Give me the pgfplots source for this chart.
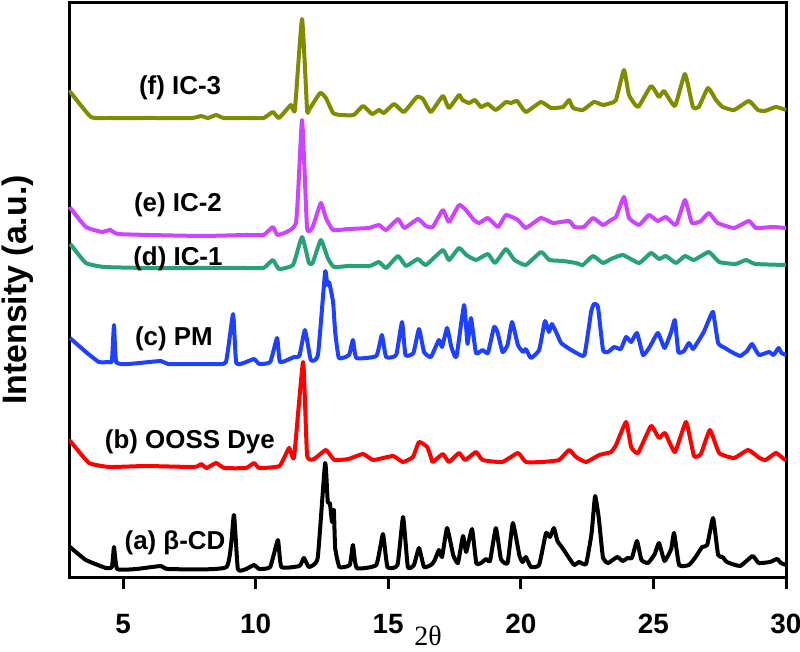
\documentclass[border=0pt]{standalone}
\usepackage{pgfplots}
\pgfplotsset{compat=1.18}
\usepackage{fontspec}
\setmainfont{Liberation Sans}
\newfontfamily\serif{Liberation Serif}

\definecolor{cA}{RGB}{0,0,0}
\definecolor{cB}{RGB}{255,0,0}
\definecolor{cC}{RGB}{32,64,255}
\definecolor{cD}{RGB}{40,160,120}
\definecolor{cE}{RGB}{204,68,255}
\definecolor{cF}{RGB}{128,140,0}

\begin{document}
\begin{tikzpicture}
\begin{axis}[
    name=ax,
    scale only axis,
    width=358bp, height=287bp,
    xmin=3, xmax=30, ymin=0, ymax=574,
    xtick={5,10,15,20,25,30},
    ytick=\empty,
    xtick pos=bottom,
    tick align=outside,
    major tick length=6bp,
    every tick/.style={black, line width=1.5bp},
    axis line style={line width=1.5bp},
    /pgf/number format/assume math mode=true,
    xticklabel style={font=\bfseries\fontsize{14}{16}\selectfont, anchor=center, yshift=-17.5bp},
    clip=false,
    every axis plot/.append style={line width=2bp, line join=round, smooth, tension=0.25},
  ]
% (a) beta-CD
\addplot[cA] coordinates {
(3.00,30)(3.04,29)(3.60,17)(4.35,9)(4.58,10)(4.66,30)(4.78,8)(5.5,8)(6.43,11)(6.7,8)
(8.9,10)(9.18,62)(9.33,8)(9.64,8)(9.94,12)(10.14,8)(10.55,10)(10.84,37)(10.97,10)
(11.65,11)(11.82,19)(12.01,10)(12.34,19)(12.62,114)(12.72,75)(12.80,74)(12.88,55)
(12.95,67)(13.0,29)(13.16,10)(13.55,12)(13.67,32)(13.81,9)(14.55,12)(14.80,43)
(14.97,10)(15.35,12)(15.56,60)(15.74,10)(15.97,12)(16.16,29)(16.35,10)(16.61,12)
(16.74,16)(16.91,27)(17.03,20)(17.22,49)(17.45,22)(17.63,14)(17.82,41)(17.94,25)
(18.16,48)(18.32,14)(18.5,14)(18.69,18)(18.84,16)(19.06,49)(19.25,18)(19.50,14)
(19.70,54)(19.95,21)(20.07,15)(20.19,20)(20.38,10)(20.69,12)(20.95,44)(21.10,40)
(21.25,49)(21.38,36)(21.57,29)(21.82,19)(22.01,12)(22.20,15)(22.46,13)(22.67,44)
(22.80,81)(22.94,59)(23.10,19)(23.29,14)(23.46,17)(23.65,20)(23.84,16)(24.03,19)
(24.19,19)(24.38,36)(24.55,17)(24.80,14)(25.05,23)(25.21,34)(25.42,16)(25.67,28)
(25.78,44)(25.97,12)(26.34,12)(26.59,20)(26.84,30)(27.03,32)(27.25,59)(27.44,22)
(27.61,20)(27.77,15)(28.27,11)(28.74,21)(28.97,14)(29.40,15)(29.66,18)(29.81,14)
(30.00,12)
};
% (b) OOSS dye
\addplot[cB] coordinates {
(3.00,136)(3.04,135)(3.72,114)(4.5,110)(5.87,111)(7.7,110)(7.94,113)(8.15,109)
(8.51,114)(8.82,109)(9.64,109)(9.94,114)(10.14,109)(10.9,111)(11.26,129)(11.45,120)
(11.79,215)(11.94,122)(12.2,118)(12.65,127)(12.97,117)(13.5,118)(14.05,123)(14.44,117)
(15.18,121)(15.55,115)(15.93,120)(16.16,135)(16.47,130)(16.61,120)(16.68,115)
(17.06,123)(17.29,115)(17.67,124)(17.90,117)(18.31,125)(18.56,117)(19.3,115)
(19.89,124)(20.19,115)(20.8,115)(21.44,117)(21.82,127)(22.08,120)(22.46,115)
(22.96,122)(23.40,125)(23.59,132)(23.97,155)(24.16,130)(24.42,124)(24.91,151)
(25.21,139)(25.44,144)(25.81,125)(26.23,155)(26.53,121)(26.79,123)(27.13,147)
(27.48,124)(28.04,119)(28.57,127)(29.0,119)(29.23,117)(29.62,124)(29.92,118)(30.00,117)
};
% (c) PM
\addplot[cC] coordinates {
(3.00,239)(3.04,238)(3.60,225)(4.09,215)(4.47,215)(4.58,216)(4.66,252)(4.74,215)
(5.2,213)(6.43,216)(6.7,213)(8.4,213)(8.88,215)(9.15,263)(9.27,214)(9.64,215)
(9.94,218)(10.14,213)(10.55,215)(10.81,239)(10.92,215)(11.45,220)(11.65,221)
(11.86,247)(12.08,217)(12.35,222)(12.62,305)(12.70,292)(12.77,295)(12.92,275)
(13.0,245)(13.14,219)(13.52,222)(13.67,237)(13.80,219)(14.55,221)(14.76,242)
(14.92,220)(15.30,222)(15.52,255)(15.65,222)(15.95,224)(16.16,248)(16.35,225)
(16.61,220)(16.91,237)(17.03,230)(17.22,249)(17.38,230)(17.57,220)(17.86,272)
(17.99,233)(18.12,259)(18.31,224)(18.56,227)(18.76,224)(18.99,250)(19.12,245)
(19.31,225)(19.50,232)(19.67,255)(19.89,232)(20.08,225)(20.19,228)(20.38,219)
(20.69,227)(20.91,256)(21.06,245)(21.17,253)(21.33,245)(21.52,234)(21.84,228)
(22.1,224)(22.4,222)(22.65,265)(22.76,273)(22.91,270)(23.1,227)(23.29,225)
(23.52,230)(23.77,228)(23.97,240)(24.16,235)(24.38,244)(24.61,222)(24.86,230)
(25.17,244)(25.42,229)(25.67,245)(25.81,257)(25.94,225)(26.15,226)(26.34,234)
(26.49,228)(26.65,234)(26.90,245)(27.09,257)(27.25,265)(27.44,234)(27.70,229)
(27.95,225)(28.27,221)(28.53,226)(28.72,233)(28.98,222)(29.36,225)(29.53,222)
(29.72,229)(29.83,224)(30.00,222)
};
% (d) IC-1
\addplot[cD] coordinates {
(3.00,333)(3.04,332)(3.60,314)(4.3,310)(6,309)(8,309)(9.64,309)(10.3,309)
(10.65,317)(10.88,308)(11.41,312)(11.75,340)(12.01,314)(12.15,314)(12.46,337)
(12.72,319)(12.95,310)(13.5,311)(14.3,311)(14.65,315)(14.92,309)(15.37,321)
(15.67,311)(16.12,318)(16.42,312)(17.06,327)(17.29,317)(17.67,329)(17.95,322)
(18.31,317)(18.76,323)(19.03,314)(19.44,328)(19.76,317)(20.19,312)(20.76,325)
(21.08,317)(21.59,316)(22.08,314)(22.34,312)(22.72,321)(23.10,314)(23.40,318)
(23.85,322)(24.46,314)(24.91,324)(25.21,318)(25.47,321)(25.85,314)(26.19,321)
(26.53,317)(27.09,325)(27.48,315)(28.1,313)(28.49,317)(28.85,313)(30.00,312)
};
% (e) IC-2
\addplot[cE] coordinates {
(3.00,370)(3.04,368)(3.60,350)(4.2,345)(4.51,347)(4.8,343)(6,342)(8,341)(9.64,342)
(10.3,342)(10.65,350)(10.84,342)(11.52,354)(11.75,457)(11.94,349)(12.15,350)
(12.46,374)(12.65,359)(12.92,347)(13.5,348)(14.27,349)(14.65,352)(14.92,347)
(15.37,358)(15.61,349)(16.12,358)(16.42,351)(16.68,350)(17.06,367)(17.29,355)
(17.67,372)(17.93,367)(18.23,357)(18.43,354)(18.76,359)(19.14,350)(19.44,362)
(19.89,357)(20.19,349)(20.76,359)(21.21,354)(21.82,356)(22.02,350)(22.38,350)
(22.72,359)(23.10,352)(23.40,357)(23.59,360)(23.89,380)(24.08,359)(24.46,352)
(24.83,362)(25.16,356)(25.47,360)(25.85,352)(26.19,377)(26.45,354)(26.79,356)
(27.09,364)(27.42,354)(28.04,349)(28.60,356)(28.87,349)(29.5,350)(30.00,349)
};
% (f) IC-3
\addplot[cF] coordinates {
(3.00,485)(3.04,484)(3.79,460)(4.5,459)(6,459)(7.6,459)(7.94,461)(8.2,459)(8.51,462)
(8.8,459)(9.64,459)(10.3,459)(10.65,465)(10.88,459)(11.33,472)(11.48,467)(11.75,558)
(11.94,467)(12.01,467)(12.43,484)(12.65,479)(12.92,464)(13.2,462)(13.7,462)
(14.05,471)(14.39,463)(14.65,467)(14.84,464)(15.22,473)(15.59,465)(16.08,480)
(16.31,478)(16.61,465)(17.06,481)(17.29,469)(17.67,482)(17.80,477)(18.05,474)
(18.27,477)(18.50,470)(18.76,473)(19.06,467)(19.44,475)(19.63,474)(19.86,476)
(20.19,465)(20.76,475)(21.14,469)(21.59,470)(21.82,477)(21.97,469)(22.34,467)
(22.76,475)(23.10,472)(23.40,474)(23.59,477)(23.89,507)(24.08,482)(24.42,470)
(24.91,491)(25.21,480)(25.40,486)(25.81,471)(26.19,503)(26.49,470)(26.71,470)
(27.06,489)(27.36,477)(27.61,470)(28.04,467)(28.60,476)(28.94,467)(29.2,466)
(29.62,470)(30.00,467)
};
\begin{scope}[every node/.style={font=\bfseries\fontsize{13}{15}\selectfont}]
\node at (axis cs:7.15,489) {(f) IC-3};
\node at (axis cs:7.07,372) {(e) IC-2};
\node at (axis cs:7.07,318) {(d) IC-1};
\node at (axis cs:6.92,238) {(c) PM};
\node at (axis cs:7.52,135) {(b) OOSS Dye};
\node at (axis cs:6.96,34) {(a) β-CD};
\end{scope}
\node[rotate=90, font=\bfseries\fontsize{17}{19}\selectfont] at (axis cs:1.04,287) {Intensity (a.u.)};
\node[font=\serif\fontsize{14}{16}\selectfont] at (axis cs:16.5,-59) {2θ};
\end{axis}
\pgfresetboundingbox
\path ([shift={(-35bp,-37.5bp)}]ax.south west) rectangle ([shift={(7bp,1.5bp)}]ax.north east);
\end{tikzpicture}
\end{document}
